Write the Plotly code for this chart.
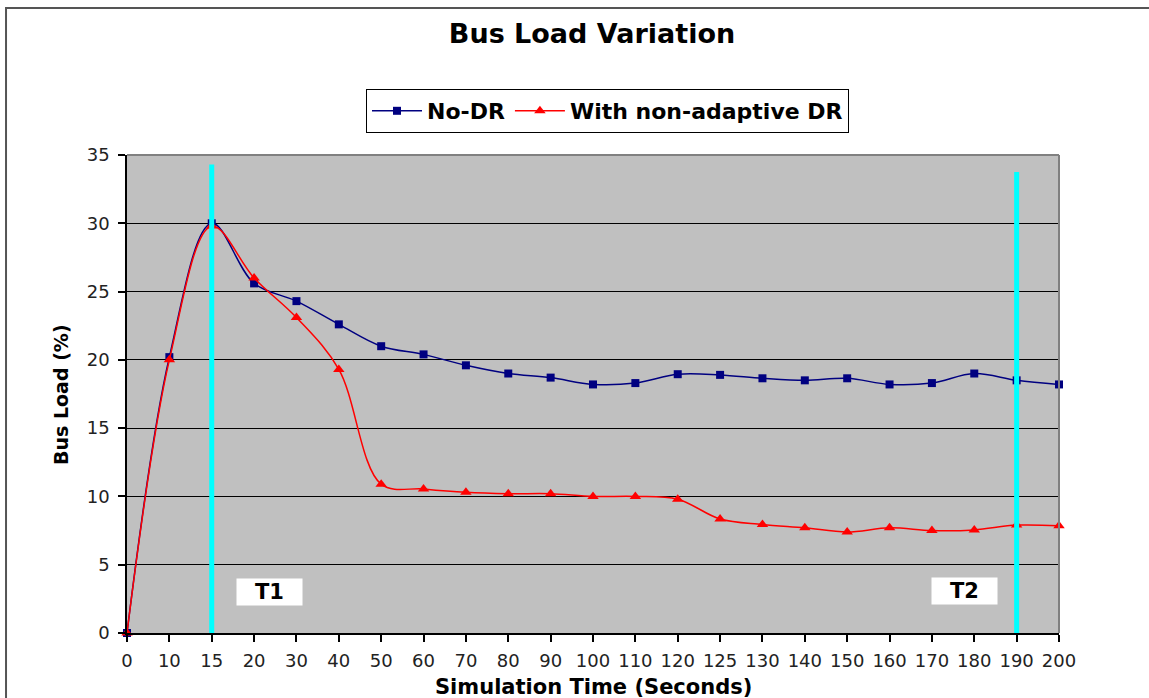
import plotly.graph_objects as go

# ---- data ----
time_labels = ["0", "10", "15", "20", "30", "40", "50", "60", "70", "80", "90", "100",
               "110", "120", "125", "130", "140", "150", "160", "170", "180", "190", "200"]
no_dr = [0, 20.2, 30.0, 25.6, 24.3, 22.6, 21.0, 20.4, 19.6, 19.0, 18.7, 18.2,
         18.3, 18.95, 18.9, 18.65, 18.5, 18.65, 18.2, 18.3, 19.0, 18.5, 18.2]
non_adaptive_dr = [0, 20.0, 29.8, 26.0, 23.1, 19.3, 10.9, 10.55, 10.3, 10.2, 10.2, 10.0,
                   10.0, 9.8, 8.35, 7.95, 7.7, 7.4, 7.7, 7.5, 7.55, 7.9, 7.85]
marker_times = ["15", "190"]
marker_tops = [34.3, 33.75]
marker_names = ["T1", "T2"]
label_pos_x = [3.36, 19.76]
label_pos_y = [3.0, 3.1]

BOLD = "DejaVu Sans"

fig = go.Figure()
fig.add_trace(go.Scatter(
    x=time_labels, y=no_dr, name="No-DR", mode="lines+markers",
    line=dict(color="#000080", width=1.5, shape="spline", smoothing=1.0),
    marker=dict(symbol="square", size=8, color="#000080"),
    cliponaxis=False))
fig.add_trace(go.Scatter(
    x=time_labels, y=non_adaptive_dr, name="With non-adaptive DR", mode="lines+markers",
    line=dict(color="#FF0000", width=1.5, shape="spline", smoothing=1.0),
    marker=dict(symbol="triangle-up", size=10, color="#FF0000"),
    cliponaxis=False))
for t, top in zip(marker_times, marker_tops):
    fig.add_trace(go.Scatter(
        x=[t, t], y=[0, top], mode="lines", showlegend=False, hoverinfo="skip",
        line=dict(color="#00FFFF", width=5), cliponaxis=False))

for name, lx, ly in zip(marker_names, label_pos_x, label_pos_y):
    fig.add_annotation(x=lx, y=ly, xref="x", yref="y", text="<b>" + name + "</b>",
                       showarrow=False, bgcolor="white", width=65, height=26, borderpad=0,
                       font=dict(family=BOLD, size=21, color="black"))

# axis titles
fig.add_annotation(x=0.5, y=-0.112, xref="paper", yref="paper",
                   text="<b>Simulation Time (Seconds)</b>", showarrow=False,
                   xanchor="center", yanchor="middle",
                   font=dict(family=BOLD, size=21, color="black"))
fig.add_annotation(x=-0.0708, y=0.498, xref="paper", yref="paper",
                   text="<b>Bus Load (%)</b>", showarrow=False, textangle=-90,
                   xanchor="center", yanchor="middle",
                   font=dict(family=BOLD, size=19, color="black"))

# outer chart border
fig.add_shape(type="rect", xref="paper", yref="paper",
              x0=-0.1298, x1=1.2, y0=-0.3, y1=1.3075,
              line=dict(color="#555555", width=2), layer="above")
# plot area top/right grey border
fig.add_shape(type="line", xref="paper", yref="paper", x0=0, x1=1, y0=1, y1=1,
              line=dict(color="#808080", width=2), layer="above")
fig.add_shape(type="line", xref="paper", yref="paper", x0=1, x1=1, y0=0, y1=1,
              line=dict(color="#808080", width=2), layer="above")

fig.update_layout(
    width=1149, height=698,
    margin=dict(l=127, r=90, t=155, b=65),
    paper_bgcolor="white", plot_bgcolor="#C0C0C0",
    title=dict(text="<b>Bus Load Variation</b>", xref="container", yref="container",
               x=592 / 1149, y=1 - 34 / 698, xanchor="center", yanchor="middle",
               font=dict(family=BOLD, size=27, color="black")),
    legend=dict(orientation="h", xref="container", yref="container",
                x=366 / 1149, y=1 - 89 / 698, xanchor="left", yanchor="top",
                bordercolor="black", borderwidth=1, bgcolor="white",
                itemwidth=50, tracegroupgap=0,
                font=dict(family=BOLD, size=22, color="black", weight="bold")),
    xaxis=dict(type="category", range=[0, 22], showgrid=False, zeroline=False,
               showline=True, linecolor="black", linewidth=1.5,
               ticks="outside", ticklen=7, tickcolor="black", tickwidth=1.5,
               ticklabelstandoff=4,
               tickfont=dict(family="DejaVu Sans", size=18, color="#222222")),
    yaxis=dict(range=[0, 35], dtick=5, showgrid=True, gridcolor="black", gridwidth=1,
               zeroline=False, showline=True, linecolor="black", linewidth=1.5,
               ticks="outside", ticklen=7, tickcolor="black", tickwidth=1.5,
               ticklabelstandoff=5,
               tickfont=dict(family="DejaVu Sans", size=18, color="#222222")),
    showlegend=True,
)

fig.write_html("out.html")
